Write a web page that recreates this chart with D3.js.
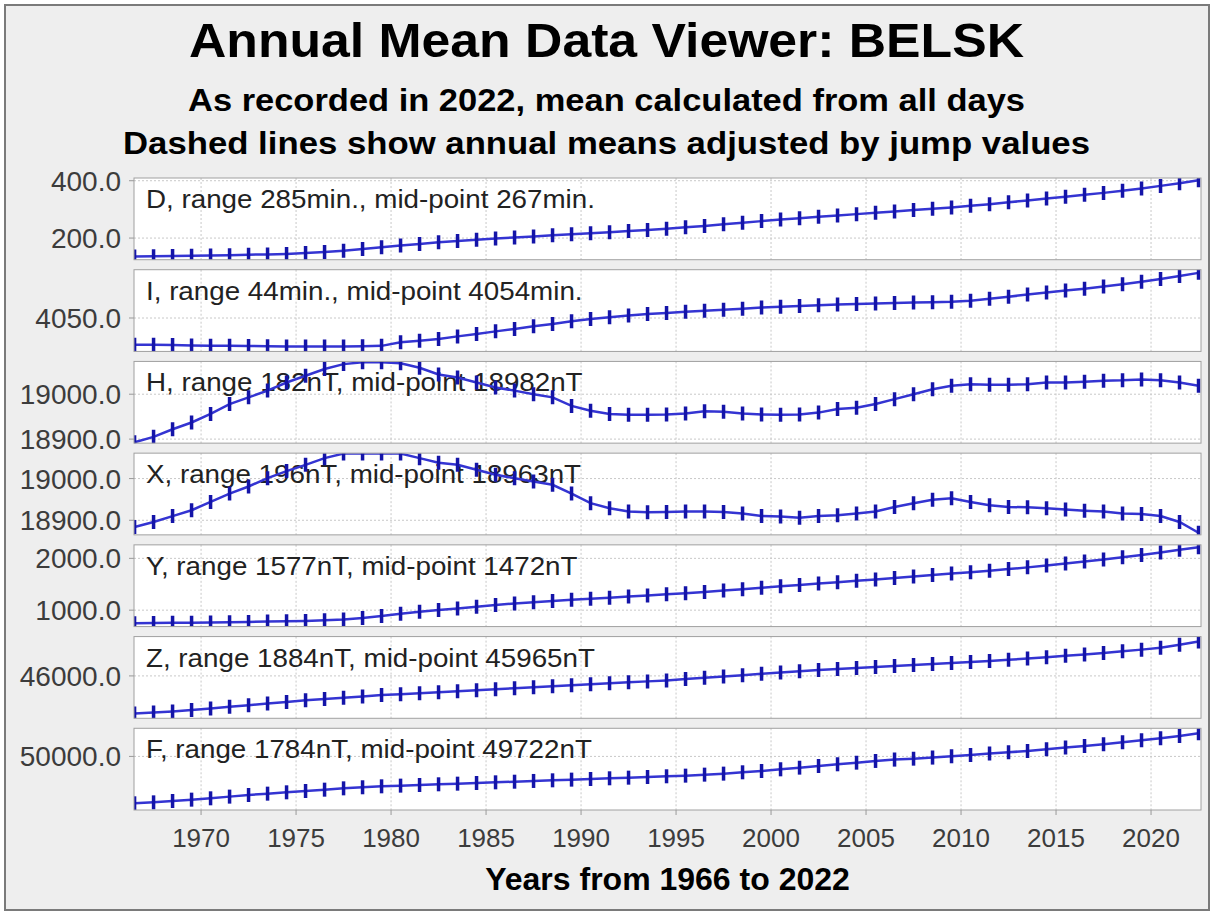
<!DOCTYPE html>
<html>
<head>
<meta charset="utf-8">
<script src="https://cdn.jsdelivr.net/npm/d3@7/dist/d3.min.js"></script>
<style>
  body { margin: 0; background: #ffffff; }
  svg text { font-family: "Liberation Sans", Arial, sans-serif; }
</style>
</head>
<body>
<div id="chart"></div>
<script>
/*
 Annual mean viewer for one observatory (BELSK).
 Seven stacked panels share the year axis, one per
 magnetic component.
*/

// x categories: one annual mean per year
var years = [1966, 1967, 1968, 1969, 1970, 1971, 1972, 1973, 1974, 1975,
	1976, 1977, 1978, 1979, 1980, 1981, 1982, 1983, 1984, 1985,
	1986, 1987, 1988, 1989, 1990, 1991, 1992, 1993, 1994, 1995,
	1996, 1997, 1998, 1999, 2000, 2001, 2002, 2003, 2004, 2005,
	2006, 2007, 2008, 2009, 2010, 2011, 2012, 2013, 2014, 2015,
	2016, 2017, 2018, 2019, 2020, 2021, 2022];

var yearTicks = [1970, 1975, 1980, 1985, 1990, 1995, 2000, 2005, 2010, 2015, 2020];

// D, minutes of arc
var dValues = [135.5, 136.4, 137.3, 138.3, 139.2, 140.2, 142.0, 143.0, 144.8, 147.6,
	151.4, 156.1, 161.7, 168.3, 173.9, 179.5, 185.1, 189.8, 194.5, 198.2,
	202.0, 205.7, 209.5, 213.2, 217.0, 220.7, 224.5, 228.2, 232.9, 237.6,
	242.3, 247.9, 253.5, 259.1, 264.8, 269.4, 274.1, 278.8, 283.5, 288.2,
	292.9, 297.6, 302.2, 306.9, 312.5, 318.2, 324.7, 331.3, 337.9, 344.4,
	351.0, 357.6, 365.1, 372.6, 382.0, 391.4, 401.7];

// I, minutes of arc
var iValues = [4035.6, 4035.6, 4035.4, 4035.2, 4035.1, 4035.0, 4034.9, 4034.8, 4034.7, 4034.7,
	4034.7, 4034.7, 4034.8, 4035.0, 4036.9, 4037.8, 4038.7, 4040.1, 4041.4, 4042.8,
	4044.1, 4045.5, 4046.8, 4048.2, 4049.5, 4050.4, 4051.3, 4052.1, 4052.7, 4053.4,
	4053.9, 4054.5, 4055.0, 4055.6, 4056.0, 4056.5, 4056.9, 4057.3, 4057.6, 4057.8,
	4058.1, 4058.3, 4058.5, 4058.7, 4059.3, 4060.4, 4061.5, 4062.6, 4063.7, 4064.8,
	4065.8, 4067.0, 4068.2, 4069.5, 4071.0, 4072.6, 4074.3];

// H, nT
var hValues = [18893, 18905, 18922, 18937, 18956, 18978, 18993, 19008, 19026, 19041,
	19056, 19067, 19071, 19071, 19069, 19059, 19044, 19037, 19026, 19015,
	19008, 19000, 18993, 18974, 18963, 18956, 18954, 18954, 18955, 18957,
	18962, 18961, 18957, 18955, 18954, 18955, 18959, 18967, 18970, 18978,
	18989, 19000, 19011, 19019, 19022, 19021, 19021, 19022, 19026, 19026,
	19028, 19030, 19031, 19033, 19031, 19026, 19019];

// X, nT
var xValues = [18884, 18896, 18910, 18924, 18944, 18964, 18981, 19001, 19018, 19033,
	19049, 19060, 19060, 19060, 19060, 19049, 19038, 19033, 19021, 19009,
	19001, 18993, 18985, 18964, 18941, 18929, 18921, 18919, 18920, 18921,
	18921, 18920, 18916, 18910, 18909, 18906, 18910, 18912, 18916, 18921,
	18932, 18941, 18949, 18953, 18944, 18936, 18932, 18931, 18929, 18926,
	18923, 18921, 18916, 18915, 18910, 18896, 18870];

// Y, nT
var yValues = [750, 752, 755, 758, 762, 768, 773, 779, 785, 793,
	804, 821, 849, 886, 932, 969, 1002, 1034, 1067, 1100,
	1129, 1155, 1178, 1200, 1220, 1242, 1263, 1285, 1306, 1328,
	1353, 1378, 1406, 1434, 1460, 1488, 1513, 1539, 1566, 1594,
	1622, 1650, 1678, 1706, 1732, 1761, 1793, 1826, 1862, 1899,
	1938, 1978, 2020, 2064, 2113, 2164, 2215];

// Z, nT
var zValues = [45136, 45159, 45181, 45212, 45249, 45287, 45325, 45362, 45400, 45438,
	45468, 45498, 45528, 45558, 45580, 45603, 45626, 45648, 45671, 45694,
	45716, 45739, 45762, 45785, 45807, 45829, 45852, 45874, 45897, 45927,
	45957, 45988, 46018, 46048, 46078, 46108, 46138, 46161, 46183, 46206,
	46229, 46251, 46274, 46297, 46320, 46342, 46372, 46402, 46432, 46462,
	46493, 46530, 46568, 46606, 46651, 46719, 46794];

// F, nT
var fValues = [48976, 48997, 49027, 49056, 49085, 49122, 49158, 49187, 49216, 49245,
	49274, 49303, 49326, 49347, 49362, 49376, 49391, 49405, 49420, 49434,
	49448, 49464, 49478, 49493, 49507, 49522, 49536, 49551, 49566, 49580,
	49602, 49624, 49653, 49682, 49718, 49755, 49791, 49828, 49864, 49901,
	49930, 49951, 49974, 50003, 50032, 50061, 50090, 50119, 50155, 50192,
	50228, 50265, 50309, 50352, 50396, 50447, 50505];

// one entry per panel, top to bottom
var components = ["D", "I", "H", "X", "Y", "Z", "F"];
var units = ["min.", "min.", "nT", "nT", "nT", "nT", "nT"];
var ranges = [285, 44, 182, 196, 1577, 1884, 1784];
var midPoints = [267, 4054, 18982, 18963, 1472, 45965, 49722];
var tickSteps = [200, 50, 100, 100, 1000, 2000, 2000];
var seriesList = [dValues, iValues, hValues, xValues, yValues, zValues, fValues];

var titleText = "Annual Mean Data Viewer: BELSK";
var subTitles = ["As recorded in 2022, mean calculated from all days",
	"Dashed lines show annual means adjusted by jump values"];
var xAxisLabel = "Years from 1966 to 2022";

var MeanViewer = {}; //Namespace

MeanViewer.graphRender = function(div_id) {

	var width = 1213;
	var height = 913;
	var plot = {left: 134, right: 1201, top: 178, bottom: 810, gap: 10};
	var panelH = (plot.bottom - plot.top - plot.gap * (components.length - 1)) / components.length;

	var lineColor = "#3434d2";
	var markColor = "#1414a8";
	var gridColor = "#c8c8c8";
	var tickColor = "#3c3c3c";

	var svg = d3.select(div_id).append("svg")
		.attr("width", width)
		.attr("height", height);

	//grey chart background with its frame
	svg.append("rect")
		.attr("x", 5).attr("y", 5)
		.attr("width", 1204).attr("height", 905)
		.attr("fill", "#eeeeee")
		.attr("stroke", "#7a7a7a")
		.attr("stroke-width", 2);

	//titles; the picture's bold font runs a bit wider than ours
	svg.append("text")
		.attr("x", width / 2).attr("y", 57)
		.attr("text-anchor", "middle")
		.attr("font-size", "48px").attr("font-weight", "bold")
		.attr("textLength", 835).attr("lengthAdjust", "spacingAndGlyphs")
		.text(titleText);
	svg.append("text")
		.attr("x", width / 2).attr("y", 111)
		.attr("text-anchor", "middle")
		.attr("font-size", "32px").attr("font-weight", "bold")
		.attr("textLength", 837).attr("lengthAdjust", "spacingAndGlyphs")
		.text(subTitles[0]);
	svg.append("text")
		.attr("x", width / 2).attr("y", 154)
		.attr("text-anchor", "middle")
		.attr("font-size", "32px").attr("font-weight", "bold")
		.attr("textLength", 967).attr("lengthAdjust", "spacingAndGlyphs")
		.text(subTitles[1]);

	//shared year axis, annual means sit at mid-year
	var x = d3.scaleLinear()
		.domain([1966.47, 2022.63])
		.range([plot.left, plot.right]);

	var fmt = d3.format(".1f");

	for(var p = 0; p < components.length; p++) {
		var top = plot.top + p * (panelH + plot.gap);
		var bottom = top + panelH;
		var lo = midPoints[p] - ranges[p] / 2;
		var hi = midPoints[p] + ranges[p] / 2;

		var y = d3.scaleLinear()
			.domain([lo, hi])
			.range([bottom, top]);

		var yTicks = d3.range(Math.ceil(lo / tickSteps[p]) * tickSteps[p], hi, tickSteps[p]);

		var g = svg.append("g").attr("class", "panel_" + components[p]);

		svg.append("clipPath")
			.attr("id", "clip" + p)
			.append("rect")
			.attr("x", plot.left).attr("y", top)
			.attr("width", plot.right - plot.left).attr("height", panelH);

		//white plot area
		g.append("rect")
			.attr("x", plot.left).attr("y", top)
			.attr("width", plot.right - plot.left).attr("height", panelH)
			.attr("fill", "#ffffff");

		//dashed grid
		g.selectAll("line.vgrid")
			.data(yearTicks)
			.enter()
			.append("line")
			.attr("class", "vgrid")
			.attr("x1", function(d) { return x(d); })
			.attr("x2", function(d) { return x(d); })
			.attr("y1", top).attr("y2", bottom)
			.attr("stroke", gridColor)
			.attr("stroke-dasharray", "2,2");
		g.selectAll("line.hgrid")
			.data(yTicks)
			.enter()
			.append("line")
			.attr("class", "hgrid")
			.attr("x1", plot.left).attr("x2", plot.right)
			.attr("y1", function(d) { return y(d); })
			.attr("y2", function(d) { return y(d); })
			.attr("stroke", gridColor)
			.attr("stroke-dasharray", "2,2");

		//left axis: tick marks and labels
		g.selectAll("line.ytick")
			.data(yTicks)
			.enter()
			.append("line")
			.attr("class", "ytick")
			.attr("x1", plot.left - 5).attr("x2", plot.left)
			.attr("y1", function(d) { return y(d); })
			.attr("y2", function(d) { return y(d); })
			.attr("stroke", "#999999");
		g.selectAll("text.ylabel")
			.data(yTicks)
			.enter()
			.append("text")
			.attr("class", "ylabel")
			.attr("x", plot.left - 13)
			.attr("y", function(d) { return y(d) + 10; })
			.attr("text-anchor", "end")
			.attr("font-size", "28px")
			.attr("fill", tickColor)
			.text(function(d) { return fmt(d); });

		//panel caption, drawn under the series
		var caption = g.append("text")
			.attr("x", plot.left + 12)
			.attr("y", top + 30)
			.attr("font-size", "25px")
			.attr("fill", "#222222")
			.text(components[p] + ", range " + ranges[p] + units[p] +
				", mid-point " + midPoints[p] + units[p]);
		var natural = caption.node().getComputedTextLength();
		caption.attr("textLength", natural * 1.11)
			.attr("lengthAdjust", "spacingAndGlyphs");

		var points = years.map(function(yr, i) {
			return {year: yr, value: seriesList[p][i]};
		});

		var line = d3.line()
			.x(function(d) { return x(d.year + 0.5); })
			.y(function(d) { return y(d.value); });

		var series = g.append("g").attr("clip-path", "url(#clip" + p + ")");
		series.append("path")
			.datum(points)
			.attr("d", line)
			.attr("fill", "none")
			.attr("stroke", lineColor)
			.attr("stroke-width", 2.5);

		//vertical bar markers on every annual mean
		series.selectAll("line.mark")
			.data(points)
			.enter()
			.append("line")
			.attr("class", "mark")
			.attr("x1", function(d) { return x(d.year + 0.5); })
			.attr("x2", function(d) { return x(d.year + 0.5); })
			.attr("y1", function(d) { return y(d.value) - 7; })
			.attr("y2", function(d) { return y(d.value) + 7; })
			.attr("stroke", markColor)
			.attr("stroke-width", 3.5);

		//panel outline
		g.append("rect")
			.attr("x", plot.left).attr("y", top)
			.attr("width", plot.right - plot.left).attr("height", panelH)
			.attr("fill", "none")
			.attr("stroke", "#a0a0a0");
	}

	//bottom year axis
	var xAxis = svg.append("g").attr("class", "x_axis");
	xAxis.selectAll("line.xtick")
		.data(yearTicks)
		.enter()
		.append("line")
		.attr("class", "xtick")
		.attr("x1", function(d) { return x(d); })
		.attr("x2", function(d) { return x(d); })
		.attr("y1", plot.bottom).attr("y2", plot.bottom + 5)
		.attr("stroke", "#999999");
	xAxis.selectAll("text.xlabel")
		.data(yearTicks)
		.enter()
		.append("text")
		.attr("class", "xlabel")
		.attr("x", function(d) { return x(d); })
		.attr("y", 847)
		.attr("text-anchor", "middle")
		.attr("font-size", "26px")
		.attr("fill", tickColor)
		.text(function(d) { return d; });

	svg.append("text")
		.attr("x", (plot.left + plot.right) / 2)
		.attr("y", 890)
		.attr("text-anchor", "middle")
		.attr("font-size", "32px")
		.attr("font-weight", "bold")
		.text(xAxisLabel);
};

MeanViewer.graphRender("#chart");
</script>
</body>
</html>
